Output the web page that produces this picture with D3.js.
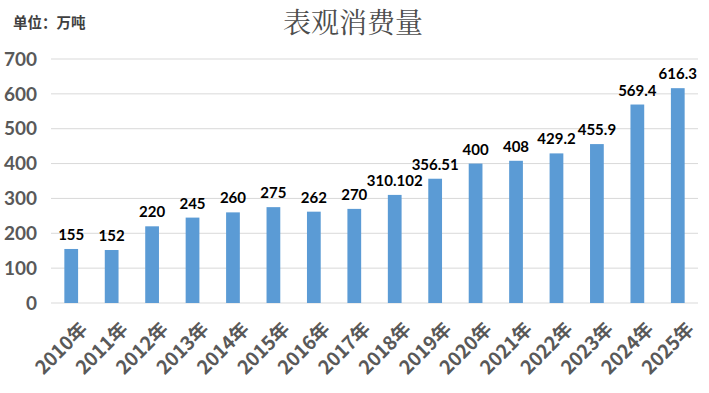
<!DOCTYPE html>
<html>
<head>
<meta charset="utf-8">
<script src="https://cdn.jsdelivr.net/npm/d3@7"></script>
<style>
  body { margin: 0; background: #fff; }
  svg { display: block; }
</style>
</head>
<body>
<svg id="chart"></svg>
<script>
let width = 709;
let height = 393;
let margin = {"top": 59, "bottom": 90, "left": 51, "right": 11};

const years = ["2010年", "2011年", "2012年", "2013年", "2014年", "2015年", "2016年", "2017年",
    "2018年", "2019年", "2020年", "2021年", "2022年", "2023年", "2024年", "2025年"];
const values = [155, 152, 220, 245, 260, 275, 262, 270, 310.102, 356.51, 400, 408, 429.2, 455.9, 569.4, 616.3];
const yTicks = [0, 100, 200, 300, 400, 500, 600, 700];

const numFont = "Lato, 'Noto Sans CJK SC', sans-serif";
const cjkFont = "'Noto Sans CJK SC', sans-serif";

let svg = d3.select("#chart")
    .attr("width", width)
    .attr("height", height);

let x = d3.scaleBand()
    .domain(years)
    .range([margin.left, width - margin.right])
    .paddingInner(0.66)
    .paddingOuter(0.33);

let y = d3.scaleLinear()
    .domain([0, 700])
    .range([height - margin.bottom, margin.top]);

// gridlines
svg.append("g")
    .selectAll("line")
    .data(yTicks)
    .enter().append("line")
    .attr("x1", margin.left)
    .attr("x2", width - margin.right)
    .attr("y1", d => y(d))
    .attr("y2", d => y(d))
    .style("stroke", "#d9d9d9")
    .style("stroke-width", 1);

// y axis labels
svg.append("g")
    .selectAll("text")
    .data(yTicks)
    .enter().append("text")
    .attr("x", 37)
    .attr("y", d => y(d))
    .attr("dy", "0.35em")
    .attr("text-anchor", "end")
    .style("font-family", numFont)
    .style("font-weight", "bold")
    .style("font-size", "19px")
    .style("fill", "#595959")
    .text(d => d);

// bars
svg.append("g")
    .selectAll("rect")
    .data(values)
    .enter().append("rect")
    .attr("x", (d, i) => x(years[i]))
    .attr("y", d => y(d))
    .attr("width", x.bandwidth())
    .attr("height", d => y(0) - y(d))
    .style("fill", "#5b9bd5");

// value labels
svg.append("g")
    .selectAll("text")
    .data(values)
    .enter().append("text")
    .attr("x", (d, i) => x(years[i]) + x.bandwidth() / 2)
    .attr("y", d => y(d) - 9)
    .attr("text-anchor", "middle")
    .style("font-family", numFont)
    .style("font-weight", "bold")
    .style("font-size", "15px")
    .style("fill", "#000")
    .text(d => d);

// x labels
svg.append("g")
    .selectAll("text")
    .data(years)
    .enter().append("text")
    .attr("transform", d => `translate(${x(d) + x.bandwidth() / 2 + 8}, 321) rotate(-45)`)
    .attr("text-anchor", "end")
    .attr("dy", "0.7em")
    .style("font-family", cjkFont)
    .style("font-weight", "bold")
    .style("font-size", "19px")
    .style("fill", "#595959")
    .text(d => d);

// title and unit
svg.append("text")
    .attr("x", 353)
    .attr("y", 33)
    .attr("text-anchor", "middle")
    .style("font-family", "'Noto Serif CJK SC', 'Noto Sans CJK SC', serif")
    .style("font-size", "28px")
    .style("fill", "#4d4d4d")
    .text("表观消费量");

svg.append("text")
    .attr("x", 13)
    .attr("y", 28)
    .style("font-family", cjkFont)
    .style("font-weight", "bold")
    .style("font-size", "14.5px")
    .style("fill", "#404040")
    .text("单位：万吨");
</script>
</body>
</html>
